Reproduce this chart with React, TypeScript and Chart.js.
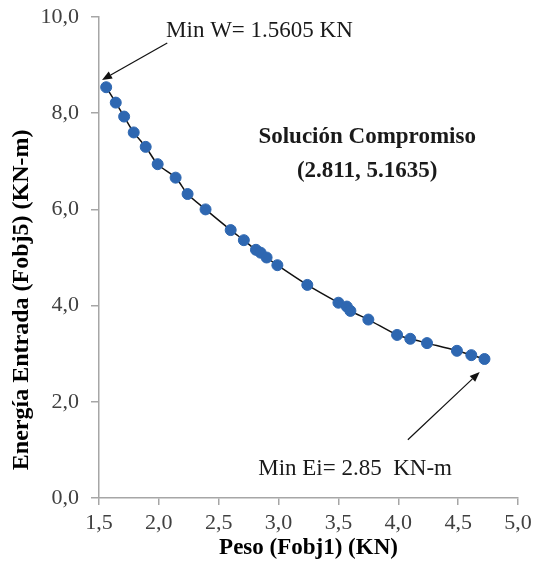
import React, { useEffect, useRef } from "react";
import { Chart, registerables } from "chart.js";

Chart.register(...registerables);

// ---- data ----
const pesoKN = [
  1.56, 1.64, 1.71, 1.79, 1.89, 1.99, 2.14, 2.24, 2.39, 2.6, 2.71, 2.811, 2.85,
  2.9, 2.99, 3.24, 3.5, 3.57, 3.6, 3.75, 3.99, 4.1, 4.24, 4.49, 4.61, 4.72,
];
const energiaKNm = [
  8.54, 8.22, 7.93, 7.6, 7.3, 6.94, 6.66, 6.32, 6.0, 5.57, 5.36, 5.16, 5.1, 5.0,
  4.84, 4.43, 4.06, 3.98, 3.89, 3.71, 3.39, 3.31, 3.22, 3.06, 2.97, 2.89,
];
const xTickValues = [1.5, 2.0, 2.5, 3.0, 3.5, 4.0, 4.5, 5.0];
const yTickValues = [0, 2, 4, 6, 8, 10];

const xAxisTitle = "Peso (Fobj1) (KN)";
const yAxisTitle = "Energía Entrada (Fobj5) (KN-m)";

// annotation texts (positions in data units)
const noteTexts = [
  { text: "Min W= 1.5605 KN", x: 2.06, y: 9.71, bold: false, align: "left" },
  { text: "Solución Compromiso", x: 3.74, y: 7.5, bold: true, align: "center" },
  { text: "(2.811, 5.1635)", x: 3.74, y: 6.8, bold: true, align: "center" },
  { text: "Min Ei= 2.85  KN-m", x: 2.83, y: 0.6, bold: false, align: "left" },
];
const noteArrows = [
  { x1: 2.07, y1: 9.46, x2: 1.525, y2: 8.69 },
  { x1: 4.08, y1: 1.21, x2: 4.68, y2: 2.62 },
];
const yTitlePos = { x: 1.5, y: 4.12 };

const SERIF = "'Liberation Serif', 'Times New Roman', serif";
const AXIS_GRAY = "#A6A6A6";

const fmt = (v: number) => v.toFixed(1).replace(".", ",");

const annotationPlugin = {
  id: "annotations",
  afterDatasetsDraw(chart: any) {
    const { ctx, scales } = chart;
    const xs = scales.x;
    const ys = scales.y;
    ctx.save();
    // arrows
    ctx.strokeStyle = "#111";
    ctx.fillStyle = "#111";
    ctx.lineWidth = 1.2;
    noteArrows.forEach((a) => {
      const px1 = xs.getPixelForValue(a.x1);
      const py1 = ys.getPixelForValue(a.y1);
      const px2 = xs.getPixelForValue(a.x2);
      const py2 = ys.getPixelForValue(a.y2);
      const ang = Math.atan2(py2 - py1, px2 - px1);
      const headLen = 10;
      const headW = 4;
      const bx = px2 - headLen * Math.cos(ang);
      const by = py2 - headLen * Math.sin(ang);
      ctx.beginPath();
      ctx.moveTo(px1, py1);
      ctx.lineTo(bx, by);
      ctx.stroke();
      ctx.beginPath();
      ctx.moveTo(px2, py2);
      ctx.lineTo(bx + headW * Math.sin(ang), by - headW * Math.cos(ang));
      ctx.lineTo(bx - headW * Math.sin(ang), by + headW * Math.cos(ang));
      ctx.closePath();
      ctx.fill();
    });
    // texts
    ctx.textBaseline = "middle";
    noteTexts.forEach((t) => {
      ctx.font = `${t.bold ? "bold " : ""}23px ${SERIF}`;
      ctx.fillStyle = "#1a1a1a";
      ctx.textAlign = t.align as CanvasTextAlign;
      ctx.fillText(t.text, xs.getPixelForValue(t.x), ys.getPixelForValue(t.y));
    });
    // y axis title
    ctx.translate(xs.getPixelForValue(yTitlePos.x) - 77, ys.getPixelForValue(yTitlePos.y));
    ctx.rotate(-Math.PI / 2);
    ctx.font = `bold 24px ${SERIF}`;
    ctx.fillStyle = "#000";
    ctx.textAlign = "center";
    ctx.fillText(yAxisTitle, 0, 0);
    ctx.restore();
  },
};

export default function App() {
  const ref = useRef<HTMLCanvasElement | null>(null);
  useEffect(() => {
    if (!ref.current) return;
    const points = pesoKN.map((x, i) => ({ x, y: energiaKNm[i] }));
    const chart = new Chart(ref.current, {
      type: "line",
      data: {
        datasets: [
          {
            data: points,
            borderColor: "#111",
            borderWidth: 1.5,
            tension: 0.3,
            pointRadius: 5.5,
            pointBackgroundColor: "#2E67B1",
            pointBorderColor: "#2E67B1",
            pointBorderWidth: 1,
            fill: false,
          },
        ],
      },
      options: {
        animation: false,
        responsive: false,
        devicePixelRatio: 1,
        layout: { padding: { left: 0, right: 19, top: 17, bottom: 0 } },
        plugins: { legend: { display: false }, tooltip: { enabled: false } },
        scales: {
          x: {
            type: "linear",
            min: 1.5,
            max: 5.0,
            afterBuildTicks: (s: any) => {
              s.ticks = xTickValues.map((v) => ({ value: v }));
            },
            afterFit: (s: any) => {
              s.height = 77;
              s.paddingLeft = 0;
              s.paddingRight = 0;
            },
            ticks: {
              callback: (v: any) => fmt(Number(v)),
              font: { family: SERIF, size: 22 },
              color: "#404040",
              padding: 5,
              maxRotation: 0,
            },
            grid: {
              drawOnChartArea: false,
              drawTicks: true,
              tickLength: 7,
              color: AXIS_GRAY,
              lineWidth: 1.5,
            },
            border: { display: true, color: AXIS_GRAY, width: 1.5 },
            title: {
              display: true,
              text: xAxisTitle,
              font: { family: SERIF, size: 23, weight: "bold" },
              color: "#000",
              padding: { top: 0, bottom: 13 },
            },
          },
          y: {
            type: "linear",
            min: 0,
            max: 10,
            afterBuildTicks: (s: any) => {
              s.ticks = yTickValues.map((v) => ({ value: v }));
            },
            afterFit: (s: any) => {
              s.width = 99;
              s.paddingTop = 0;
              s.paddingBottom = 0;
            },
            ticks: {
              callback: (v: any) => fmt(Number(v)),
              font: { family: SERIF, size: 22 },
              color: "#404040",
              padding: 12,
            },
            grid: {
              drawOnChartArea: false,
              drawTicks: true,
              tickLength: 8,
              color: AXIS_GRAY,
              lineWidth: 1.5,
            },
            border: { display: true, color: AXIS_GRAY, width: 1.5 },
          },
        },
      },
      plugins: [annotationPlugin],
    } as any);
    return () => chart.destroy();
  }, []);
  return (
    <div style={{ position: "absolute", left: 0, top: 0, width: 537, height: 575, background: "#fff" }}>
      <canvas ref={ref} width={537} height={575} />
    </div>
  );
}
